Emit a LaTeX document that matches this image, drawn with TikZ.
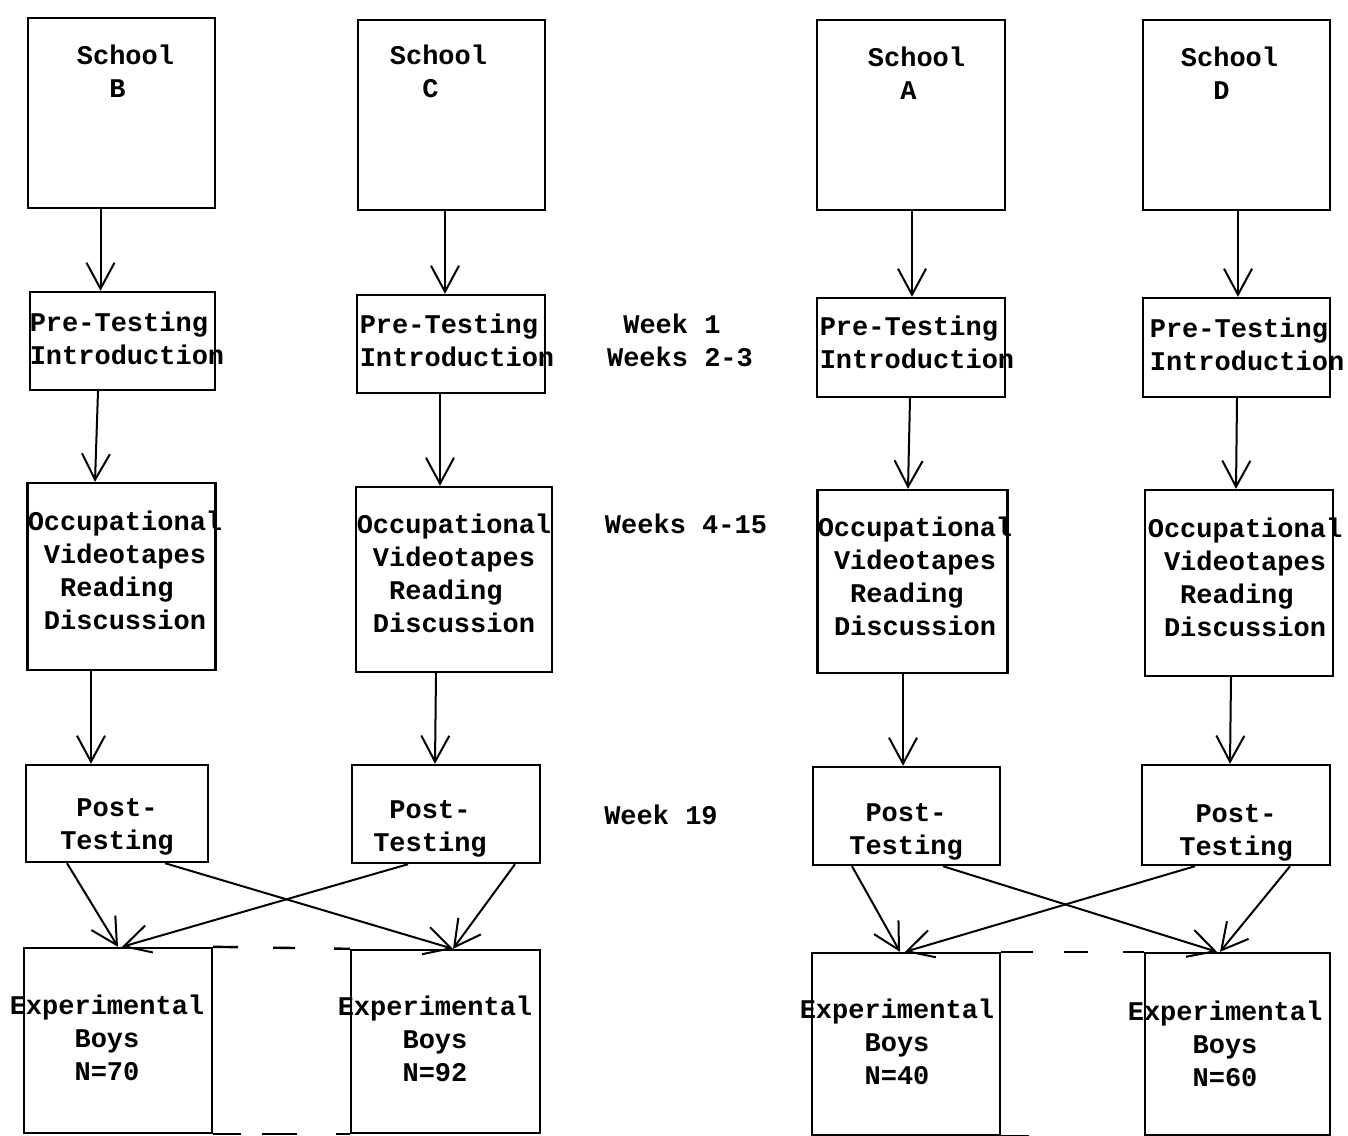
\documentclass[tikz,border=0pt]{standalone}
\usepackage{fontspec}
\newfontfamily\tw{Liberation Mono}
\usetikzlibrary{arrows.meta}
\begin{document}
\begin{tikzpicture}[x=0.5pt,y=-0.5pt,
  bx/.style={draw, line width=1.2pt, inner sep=0pt},
  txt/.style={font=\tw\bfseries\fontsize{13.5}{16.5}\selectfont, inner sep=0pt, align=left, yshift=-1.5pt},
  ctxt/.style={txt, align=center},
  arr/.style={line width=1pt, -{Straight Barb[length=13pt,width=14pt,line width=1pt]}},
  ext/.style={line width=1.2pt}]
\useasboundingbox (0,0) rectangle (1348,1135);

% ---- School boxes
\node[bx, minimum width=93.5pt, minimum height=95pt] (sB) at (121.5,113) {};
\node[bx, minimum width=93.5pt, minimum height=95pt] (sC) at (451.5,115) {};
\node[bx, minimum width=94pt, minimum height=95pt] (sA) at (911,115) {};
\node[bx, minimum width=93.5pt, minimum height=95pt] (sD) at (1236.5,115) {};
\node[txt] (sBt) at (125.5,71.5) {\strut School\\\strut\hphantom{Sc}B};
\node[txt] (sCt) at (438.5,71.5) {\strut School\\\strut\hphantom{Sc}C};
\node[txt] (sAt) at (916.5,73.5) {\strut School\\\strut\hphantom{Sc}A};
\node[txt] (sDt) at (1229.5,73.5) {\strut School\\\strut\hphantom{Sc}D};

% ---- Pre-testing boxes
\node[bx, minimum width=92.5pt, minimum height=49pt] (pB) at (122.5,341) {};
\node[bx, minimum width=94pt, minimum height=49pt] (pC) at (451,344) {};
\node[bx, minimum width=94pt, minimum height=49.5pt] (pA) at (911,347.5) {};
\node[bx, minimum width=93.5pt, minimum height=49.5pt] (pD) at (1236.5,347.5) {};
\node[txt] (pBt) at (127,338) {\strut Pre-Testing\\\strut Introduction};
\node[txt] (pCt) at (457,340) {\strut Pre-Testing\\\strut Introduction};
\node[txt] (pAt) at (917,342) {\strut Pre-Testing\\\strut Introduction};
\node[txt] (pDt) at (1247,344) {\strut Pre-Testing\\\strut Introduction};

% ---- Occupational boxes
\node[bx, minimum width=94pt, minimum height=93.5pt] (oB) at (121.5,576.5) {};
\node[bx, minimum width=98pt, minimum height=92.5pt] (oC) at (454,579.5) {};
\node[bx, minimum width=95pt, minimum height=91.5pt] (oA) at (912.5,581.5) {};
\node[bx, minimum width=94pt, minimum height=93pt] (oD) at (1239,583) {};
\node[txt] (oBt) at (125,570) {\strut Occupational\\\strut\hphantom{O}Videotapes\\\strut\hphantom{Oc}Reading\\\strut\hphantom{O}Discussion};
\node[txt] (oCt) at (454,573) {\strut Occupational\\\strut\hphantom{O}Videotapes\\\strut\hphantom{Oc}Reading\\\strut\hphantom{O}Discussion};
\node[txt] (oAt) at (915,576) {\strut Occupational\\\strut\hphantom{O}Videotapes\\\strut\hphantom{Oc}Reading\\\strut\hphantom{O}Discussion};
\node[txt] (oDt) at (1245,577) {\strut Occupational\\\strut\hphantom{O}Videotapes\\\strut\hphantom{Oc}Reading\\\strut\hphantom{O}Discussion};

% ---- Post-testing boxes
\node[bx, minimum width=91pt, minimum height=48.5pt] (tB) at (117,813.5) {};
\node[bx, minimum width=94pt, minimum height=49pt] (tC) at (446,814) {};
\node[bx, minimum width=93.5pt, minimum height=49pt] (tA) at (906.5,816) {};
\node[bx, minimum width=94pt, minimum height=50pt] (tD) at (1236,815) {};
\node[ctxt] (tBt) at (117,823) {\strut Post-\\\strut Testing};
\node[ctxt] (tCt) at (430,825) {\strut Post-\\\strut Testing};
\node[ctxt] (tAt) at (906,828) {\strut Post-\\\strut Testing};
\node[ctxt] (tDt) at (1236,829) {\strut Post-\\\strut Testing};

% ---- Experimental boxes
\node[bx, minimum width=94pt, minimum height=92.5pt] (eB) at (118,1040.5) {};
\node[bx, minimum width=94.5pt, minimum height=91.5pt] (eC) at (445.5,1041.5) {};
\node[bx, minimum width=94pt, minimum height=91pt] (eA) at (906,1044) {};
\node[bx, minimum width=92.5pt, minimum height=91pt] (eD) at (1237.5,1044) {};
\node[ctxt] (eBt) at (107,1038) {\strut Experimental\\\strut Boys\\\strut N=70};
\node[ctxt] (eCt) at (435,1039) {\strut Experimental\\\strut Boys\\\strut N=92};
\node[ctxt] (eAt) at (897,1042) {\strut Experimental\\\strut Boys\\\strut N=40};
\node[ctxt] (eDt) at (1225,1044) {\strut Experimental\\\strut Boys\\\strut N=60};

% ---- Week labels
\node[txt] (w1) at (680,340) {\strut\hphantom{W}Week 1\\\strut Weeks 2-3};
\node[txt] (w4) at (686,524) {\strut Weeks 4-15};
\node[txt] (w19) at (661,815) {\strut Week 19};

% ---- vertical arrows
\draw[arr] ([xshift=-10.5pt]sB.south) -- ([xshift=-11pt]pB.north);
\draw[arr] ([xshift=-3.25pt]sC.south) -- ([xshift=-3pt]pC.north);
\draw[arr] ([xshift=0.5pt]sA.south) -- ([xshift=0.5pt]pA.north);
\draw[arr] ([xshift=0.75pt]sD.south) -- ([xshift=0.75pt]pD.north);

\draw[arr] ([xshift=-12.25pt]pB.south) -- ([xshift=-13.25pt]oB.north);
\draw[arr] ([xshift=-5.5pt]pC.south) -- ([xshift=-7pt]oC.north);
\draw[arr] ([xshift=-0.5pt]pA.south) -- ([xshift=-2.25pt]oA.north);
\draw[arr] ([xshift=0.25pt]pD.south) -- ([xshift=-1.5pt]oD.north);

\draw[arr] ([xshift=-15.25pt]oB.south) -- ([xshift=-13pt]tB.north);
\draw[arr] ([xshift=-9pt]oC.south) -- ([xshift=-5.5pt]tC.north);
\draw[arr] ([xshift=-4.75pt]oA.south) -- ([xshift=-1.75pt]tA.north);
\draw[arr] ([xshift=-4pt]oD.south) -- ([xshift=-3pt]tD.north);

% ---- crossing arrows
\draw[arr] ([xshift=-25pt]tB.south) -- ([xshift=0pt]eB.north);
\draw[arr] ([xshift=24pt]tB.south) -- ([xshift=3.75pt]eC.north);
\draw[arr] ([xshift=-19pt]tC.south) -- ([xshift=2pt]eB.north);
\draw[arr] ([xshift=34.5pt]tC.south) -- ([xshift=3.75pt]eC.north);

\draw[arr] ([xshift=-27.25pt]tA.south) -- ([xshift=-3pt]eA.north);
\draw[arr] ([xshift=18.25pt]tA.south) -- ([xshift=-10.25pt]eD.north);
\draw[arr] ([xshift=-20.5pt]tD.south) -- ([xshift=-0.5pt]eA.north);
\draw[arr] ([xshift=27pt]tD.south) -- ([xshift=-8.75pt]eD.north);

% ---- broken lines joining the experimental boxes
\draw[ext, dash pattern=on 12.5pt off 17.5pt on 11pt off 19.5pt on 9pt] (eB.north east) -- (eC.north west);
\draw[ext, dash pattern=on 14pt off 10.5pt on 17.5pt off 19.5pt on 8pt] (eB.south east) -- (eC.south west);
\draw[ext, dash pattern=on 16pt off 15.5pt on 12pt off 17.5pt on 11.5pt] (eA.north east) -- (eD.north west);
\draw[ext, dash pattern=on 14pt off 200pt] (eA.south east) -- (eD.south west);
\end{tikzpicture}
\end{document}
